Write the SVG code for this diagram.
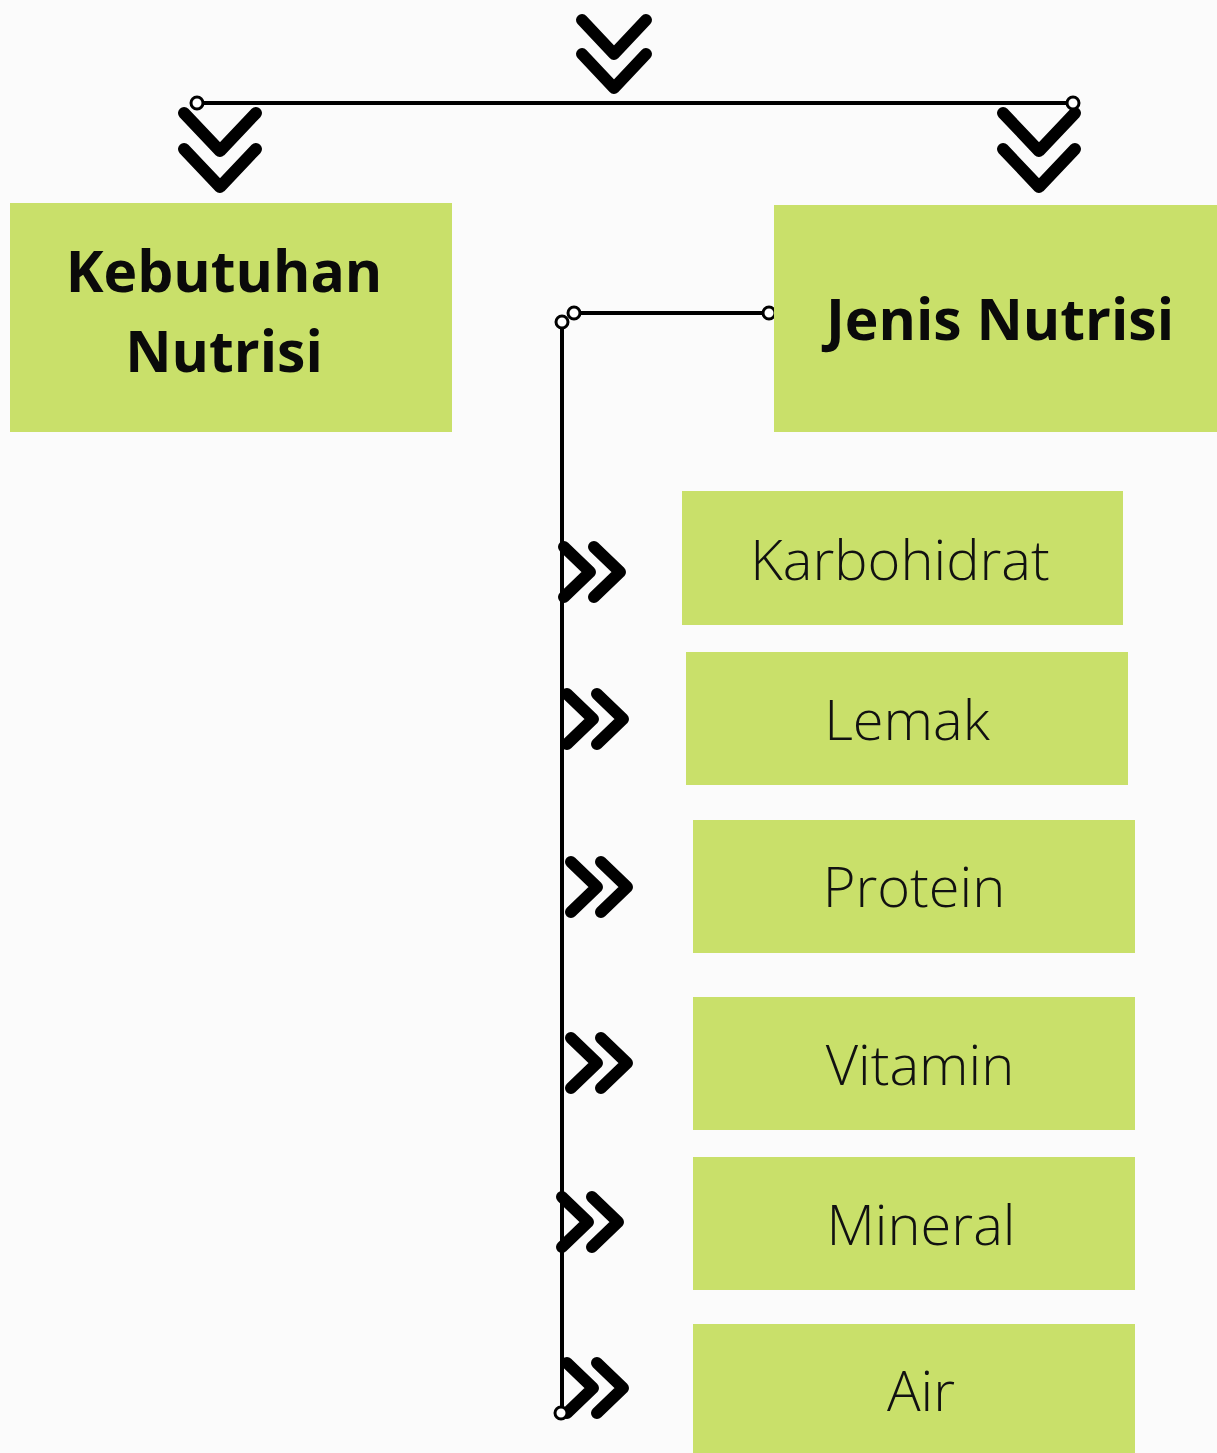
<svg xmlns="http://www.w3.org/2000/svg" xmlns:xlink="http://www.w3.org/1999/xlink" width="1217" height="1453" viewBox="0 0 1217 1453">
<defs>
<style>
.box{fill:#c9e06a;}
.hd{font-family:"Open Sans","Noto Sans",sans-serif;font-weight:700;font-size:57px;fill:#0a0a0a;text-anchor:middle;}
.it{font-family:"Open Sans","Noto Sans",sans-serif;font-weight:300;font-size:56px;fill:#111;text-anchor:middle;}
.ln{stroke:#000;stroke-width:4;fill:none;}
.dot{fill:#fff;stroke:#000;stroke-width:3;}
.chev{stroke:#000;stroke-width:12;fill:none;stroke-linecap:round;stroke-linejoin:round;}
</style>
<g id="chevR"><path class="chev" d="M0,-25 L26,0 L0,25 M30,-25 L56,0 L30,25"/></g>
<g id="chevD"><path class="chev" d="M-36,0 L0,38 L36,0 M-36,36 L0,74 L36,36"/></g>
</defs>
<rect width="1217" height="1453" fill="#fbfbfb"/>
<g id="connectors">
<path class="chev" d="M-32,0 L0,34 L32,0 M-32,34 L0,68 L32,34" transform="translate(614,20)"/>
<line class="ln" x1="197" y1="103" x2="1073" y2="103"/>
<use xlink:href="#chevD" transform="translate(220,113)"/>
<use xlink:href="#chevD" transform="translate(1039,113)"/>
<circle class="dot" cx="197" cy="103" r="6"/>
<circle class="dot" cx="1073" cy="103" r="6"/>
<line class="ln" x1="574" y1="313" x2="768" y2="313"/>
<line class="ln" x1="562" y1="322" x2="562" y2="1413"/>
<circle class="dot" cx="562" cy="322" r="6"/>
<circle class="dot" cx="574" cy="313" r="6"/>
<circle class="dot" cx="769" cy="313" r="6"/>
<use xlink:href="#chevR" transform="translate(564,572)"/>
<use xlink:href="#chevR" transform="translate(567,719)"/>
<use xlink:href="#chevR" transform="translate(571,887)"/>
<use xlink:href="#chevR" transform="translate(571,1063)"/>
<use xlink:href="#chevR" transform="translate(562,1222)"/>
<use xlink:href="#chevR" transform="translate(567,1388)"/>
<circle class="dot" cx="561" cy="1413" r="6"/>
</g>
<g id="kebutuhan">
<rect class="box" x="10" y="203" width="442" height="229"/>
<text class="hd" x="224" y="292">Kebutuhan</text>
<text class="hd" x="224" y="372">Nutrisi</text>
</g>
<g id="jenis">
<rect class="box" x="774" y="205" width="443" height="227"/>
<text class="hd" x="1000" y="340">Jenis Nutrisi</text>
</g>
<g id="karbohidrat">
<rect class="box" x="682" y="491" width="441" height="134"/>
<text class="it" x="900" y="580">Karbohidrat</text>
</g>
<g id="lemak">
<rect class="box" x="686" y="652" width="442" height="133"/>
<text class="it" x="907" y="740">Lemak</text>
</g>
<g id="protein">
<rect class="box" x="693" y="820" width="442" height="133"/>
<text class="it" x="914" y="907">Protein</text>
</g>
<g id="vitamin">
<rect class="box" x="693" y="997" width="442" height="133"/>
<text class="it" x="920" y="1085">Vitamin</text>
</g>
<g id="mineral">
<rect class="box" x="693" y="1157" width="442" height="133"/>
<text class="it" x="921" y="1245">Mineral</text>
</g>
<g id="air">
<rect class="box" x="693" y="1324" width="442" height="129"/>
<text class="it" x="921" y="1411">Air</text>
</g>
</svg>
